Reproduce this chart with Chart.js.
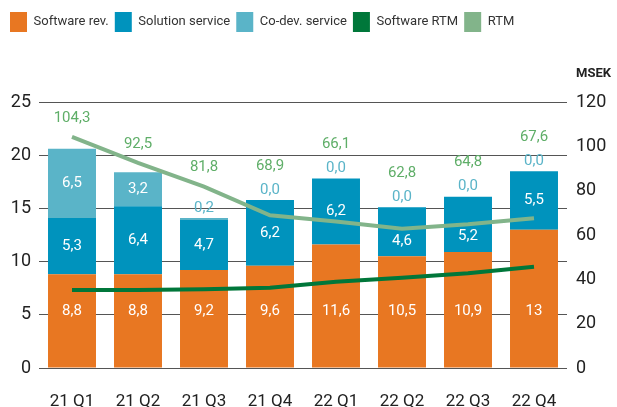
<!DOCTYPE html>
<html>
<head>
<meta charset="utf-8">
<script src="https://cdn.jsdelivr.net/npm/chart.js@4/dist/chart.umd.min.js"></script>
<style>
  html, body { margin: 0; padding: 0; background: #fff; }
  #wrap { width: 617px; height: 407px; }
</style>
</head>
<body>
<div id="wrap"><canvas id="chart"></canvas></div>
<script>
  // data
  const quarters = ['21 Q1', '21 Q2', '21 Q3', '21 Q4', '22 Q1', '22 Q2', '22 Q3', '22 Q4'];
  const softwareRev = [8.8, 8.8, 9.2, 9.6, 11.6, 10.5, 10.9, 13];
  const solutionService = [5.3, 6.4, 4.7, 6.2, 6.2, 4.6, 5.2, 5.5];
  const coDevService = [6.5, 3.2, 0.2, 0, 0, 0, 0, 0];
  const softwareRtm = [35.2, 35.2, 35.5, 36.2, 38.9, 40.7, 42.7, 45.7];
  const rtm = [104.3, 92.5, 81.8, 68.9, 66.1, 62.8, 64.8, 67.6];

  const ORANGE = '#E87722', BLUE = '#0093BD', LIGHTBLUE = '#5AB4C8';
  const DARKGREEN = '#00773A', GREEN = '#82B48A';
  const FONT = 'Roboto';

  const fmt = (v, keepDec) => (!keepDec && Number.isInteger(v)) ? String(v) : v.toFixed(1).replace('.', ',');

  // draws the value labels and the MSEK unit
  const labelPlugin = {
    id: 'valueLabels',
    afterDatasetsDraw(chart) {
      const ctx = chart.ctx, x = chart.scales.x, y = chart.scales.y, y1 = chart.scales.y1;
      ctx.save();
      ctx.textAlign = 'center';
      ctx.textBaseline = 'middle';
      ctx.font = '15px ' + FONT;
      quarters.forEach((q, i) => {
        const cx = x.getPixelForValue(i);
        const rtmY = y1.getPixelForValue(rtm[i]);
        ctx.fillStyle = '#fff';
        ctx.fillText(fmt(softwareRev[i]), cx, y.getPixelForValue(5.3));
        let by = y.getPixelForValue(softwareRev[i] + solutionService[i] / 2);
        if (Math.abs(by - rtmY) < 8) by = rtmY + 12; // keep clear of the RTM line
        ctx.fillText(fmt(solutionService[i], true), cx, by);
        const top = softwareRev[i] + solutionService[i] + coDevService[i];
        let limit;
        if (coDevService[i] >= 1) {
          ctx.fillText(fmt(coDevService[i], true), cx, y.getPixelForValue(top - coDevService[i] / 2));
          limit = y.getPixelForValue(top) - 10;
        } else {
          const ly = y.getPixelForValue(top) - 10;
          ctx.fillStyle = LIGHTBLUE;
          ctx.fillText(fmt(coDevService[i], true), cx, ly);
          limit = ly - 24;
        }
        ctx.fillStyle = '#5FAE68';
        ctx.fillText(fmt(rtm[i], true), cx, Math.min(rtmY - 19, limit));
      });
      ctx.font = 'bold 13px ' + FONT;
      ctx.fillStyle = '#222';
      ctx.textAlign = 'left';
      ctx.fillText('MSEK', chart.chartArea.right + 9, 74);
      ctx.restore();
    }
  };

  // extra room under the legend
  const legendSpace = {
    id: 'legendSpace',
    beforeInit(chart) {
      const fit = chart.legend.fit;
      chart.legend.fit = function () {
        fit.bind(chart.legend)();
        this.height = 96;
      };
    }
  };

  const ctx = document.getElementById('chart').getContext('2d');
  new Chart(ctx, {
    type: 'bar',
    data: {
      labels: quarters,
      datasets: [
        { label: 'Software rev.', data: softwareRev, backgroundColor: ORANGE, stack: 's', yAxisID: 'y', order: 2 },
        { label: 'Solution service', data: solutionService, backgroundColor: BLUE, stack: 's', yAxisID: 'y', order: 2 },
        { label: 'Co-dev. service', data: coDevService, backgroundColor: LIGHTBLUE, stack: 's', yAxisID: 'y', order: 2 },
        { type: 'line', label: 'Software RTM', data: softwareRtm, borderColor: DARKGREEN, backgroundColor: DARKGREEN,
          borderWidth: 4, pointRadius: 0, yAxisID: 'y1', order: 1 },
        { type: 'line', label: 'RTM', data: rtm, borderColor: GREEN, backgroundColor: GREEN,
          borderWidth: 4, pointRadius: 0, yAxisID: 'y1', order: 1 }
      ]
    },
    options: {
      responsive: true,
      maintainAspectRatio: false,
      animation: false,
      layout: { padding: { left: 4, top: 6, right: 0, bottom: 0 } },
      datasets: { bar: { barPercentage: 0.727, categoryPercentage: 1 } },
      plugins: {
        tooltip: { enabled: false },
        legend: {
          position: 'top',
          align: 'start',
          labels: {
            boxWidth: 17,
            boxHeight: 20,
            padding: 6,
            color: '#333',
            font: { family: FONT, size: 13 },
            sort: (a, b) => a.datasetIndex - b.datasetIndex,
            generateLabels(chart) {
              return Chart.defaults.plugins.legend.labels.generateLabels(chart).map(l => {
                l.lineWidth = 0;
                l.fillStyle = chart.data.datasets[l.datasetIndex].backgroundColor;
                return l;
              });
            }
          }
        }
      },
      scales: {
        x: {
          stacked: true,
          grid: { display: false, drawTicks: false },
          border: { display: false },
          ticks: { color: '#222', font: { family: FONT, size: 17 }, padding: 24 },
          afterFit(s) { s.height = 39; }
        },
        y: {
          stacked: true,
          position: 'left',
          min: 0, max: 25,
          grid: { color: '#555', lineWidth: 1, drawTicks: false },
          border: { display: false },
          ticks: { stepSize: 5, color: '#222', font: { family: FONT, size: 18 }, padding: 8 },
          afterFit(s) { s.width = 35; }
        },
        y1: {
          position: 'right',
          min: 0, max: 120,
          grid: { display: false, drawTicks: false },
          border: { display: false },
          ticks: { stepSize: 20, color: '#222', font: { family: FONT, size: 18 }, padding: 9 },
          afterFit(s) { s.width = 50; }
        }
      }
    },
    plugins: [labelPlugin, legendSpace]
  });
</script>
</body>
</html>
